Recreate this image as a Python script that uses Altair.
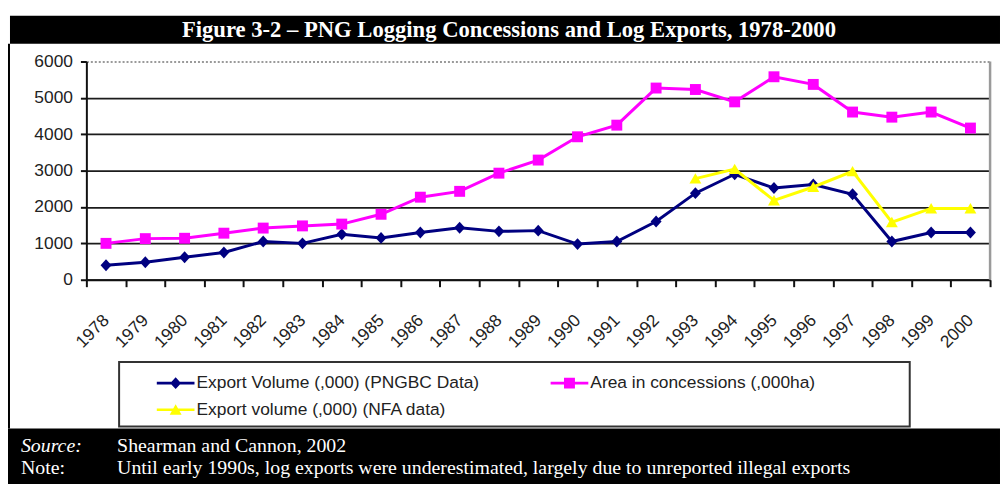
import altair as alt
import pandas as pd

YEARS = [str(y) for y in range(1978, 2001)]
PNGBC = [400, 480, 620, 750, 1050, 1000, 1250, 1150, 1300, 1430, 1330, 1350,
         980, 1050, 1600, 2380, 2900, 2520, 2620, 2350, 1050, 1300, 1300]
AREA = [1000, 1130, 1140, 1280, 1420, 1480, 1530, 1800, 2270, 2430, 2930, 3290,
        3930, 4250, 5270, 5230, 4890, 5580, 5370, 4610, 4470, 4610, 4170]
NFA_YEARS = [str(y) for y in range(1993, 2001)]
NFA = [2780, 3040, 2180, 2550, 2980, 1580, 1960, 1960]

SERIES = ["Export Volume (,000) (PNGBC Data)",
          "Area in concessions (,000ha)",
          "Export volume (,000) (NFA data)"]
COLORS = ["#000080", "#ff00ff", "#ffff00"]
MARKERS = ["M0,-0.6L0.55,0L0,0.6L-0.55,0Z",
           "M-0.55,-0.55H0.55V0.55H-0.55Z",
           "M0,-0.55L0.6,0.5H-0.6Z"]
BAR = "M-1.9,-0.13H1.9V0.13H-1.9Z"

TITLE = "Figure 3-2 \u2013 PNG Logging Concessions and Log Exports, 1978-2000"
SOURCE_LABEL = "Source:"
SOURCE_TEXT = "Shearman and Cannon, 2002"
NOTE_LABEL = "Note:"
NOTE_TEXT = ("Until early 1990s, log exports were underestimated, largely due to "
             "unreported illegal exports")

rows = []
for yr, v in zip(YEARS, PNGBC):
    rows.append({"year": yr, "value": v, "series": SERIES[0]})
for yr, v in zip(YEARS, AREA):
    rows.append({"year": yr, "value": v, "series": SERIES[1]})
for yr, v in zip(NFA_YEARS, NFA):
    rows.append({"year": yr, "value": v, "series": SERIES[2]})
df = pd.DataFrame(rows)

W, H = 911, 220
SANS = "Liberation Sans"
SERIF = "Liberation Serif"

x_enc = alt.X("year:O",
              scale=alt.Scale(type="band", domain=YEARS, paddingInner=0, paddingOuter=0),
              axis=alt.Axis(title=None, labelAngle=-45, labelAlign="right",
                            labelBaseline="middle", labelFont=SANS, labelFontSize=17.5,
                            labelColor="#222", labelPadding=31, tickBand="extent",
                            tickSize=7, tickColor="#111", tickWidth=2,
                            domainColor="#111", domainWidth=2, grid=False))
y_enc = alt.Y("value:Q",
              scale=alt.Scale(domain=[0, 6000], nice=False),
              axis=alt.Axis(title=None, values=[0, 1000, 2000, 3000, 4000, 5000, 6000],
                            format="d",
                            labelFont=SANS, labelFontSize=17.5, labelColor="#222",
                            labelPadding=8, tickSize=6, tickColor="#111", tickWidth=2,
                            domainColor="#111", domainWidth=2,
                            grid=True,
                            gridColor={"condition": {"test": "datum.value === 6000",
                                                     "value": "#9a9a9a"},
                                       "value": "#1c1c1c"},
                            gridDash={"condition": {"test": "datum.value === 6000",
                                                    "value": [2, 2]},
                                      "value": []},
                            gridWidth=1.8))

one = alt.Data(values=[{}])


def box(x1, x2, y1, y2, **kw):
    return alt.Chart(one).mark_rect(**kw).encode(
        x=alt.value(x1), x2=alt.value(x2), y=alt.value(y1), y2=alt.value(y2))


def label(txt, xv, yv, **kw):
    return alt.Chart(one).mark_text(text=txt, baseline="middle", **kw).encode(
        x=alt.value(xv), y=alt.value(yv))


title_band = box(-77, 921, -46, -18, color="black")
footer_band = box(-79, 921, 370, 426, color="black")
left_strip = box(-79, -77, -18, 370, color="black")
legend_box = box(33, 830, 303, 368, fill="white", stroke="#333", strokeWidth=2)
right_border = alt.Chart(one).mark_rule(color="#9a9a9a", strokeWidth=2.5).encode(
    x=alt.value(W), y=alt.value(0), y2=alt.value(H))

series_layers = []
for s, c, m in zip(SERIES, COLORS, MARKERS):
    base = alt.Chart(df).transform_filter(alt.datum.series == s)
    series_layers.append(base.mark_line(color=c, strokeWidth=3).encode(x=x_enc, y=y_enc))
    series_layers.append(base.mark_point(shape=m, filled=True, size=400, color=c,
                                         opacity=1).encode(x=x_enc, y=y_enc))

leg = alt.Legend(title=None, orient="none", legendX=80, legendY=314, columns=2,
                 direction="horizontal",
                 columnPadding=72, rowPadding=8, labelFont=SANS, labelFontSize=17.5,
                 labelColor="#222", labelLimit=500, labelOffset=11, symbolSize=400,
                 symbolStrokeWidth=0, padding=0)
legend_layer = alt.Chart(df).transform_filter("false").mark_point(
    filled=True, size=400, opacity=1).encode(
    x=x_enc, y=y_enc,
    color=alt.Color("series:N", scale=alt.Scale(domain=SERIES, range=COLORS), legend=leg),
    shape=alt.Shape("series:N",
                    scale=alt.Scale(domain=SERIES, range=[BAR + m for m in MARKERS]),
                    legend=leg))

texts = [
    label(TITLE, 426, -32, align="center", font=SERIF, fontWeight="bold",
          fontSize=22.8, color="white"),
    label(SOURCE_LABEL, -66, 388, align="left", font=SERIF, fontStyle="italic",
          fontSize=20, color="white"),
    label(SOURCE_TEXT, 31, 388, align="left", font=SERIF, fontSize=20, color="white"),
    label(NOTE_LABEL, -66, 410, align="left", font=SERIF, fontSize=20, color="white"),
    label(NOTE_TEXT, 31, 410, align="left", font=SERIF, fontSize=20, color="white"),
]

chart = alt.layer(
    title_band, footer_band, left_strip, legend_box, right_border,
    *series_layers, legend_layer, *texts
).properties(
    width=W, height=H,
    padding={"left": 79, "top": 52, "right": 10, "bottom": 206},
    autosize=alt.AutoSizeParams(type="none"),
    background="white",
).configure_view(stroke=None)

chart.save("out.html", embed_options={"renderer": "svg", "actions": False})
